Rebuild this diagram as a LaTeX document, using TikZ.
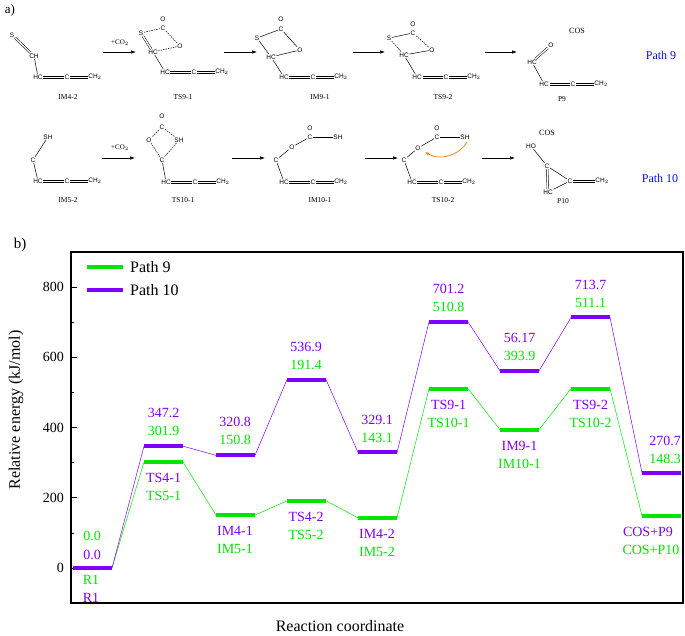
\documentclass[tikz,border=0pt]{standalone}
\usepackage{fontspec}
\setmainfont{Liberation Serif}
\setsansfont{Liberation Sans}
\usetikzlibrary{arrows.meta}
\definecolor{pgreen}{HTML}{00E600}
\definecolor{ppurp}{HTML}{8000FF}
\definecolor{pblue}{HTML}{1010F0}
\definecolor{porange}{HTML}{F08A20}
\tikzset{
 atom/.style={font=\sffamily\fontsize{6.5}{7}\selectfont, inner sep=0.6pt},
 cname/.style={font=\fontsize{7.5}{8}\selectfont, inner sep=0pt},
 bnd/.style={line width=0.5pt},
 dbl/.style={double distance=1.3pt, line width=0.5pt},
 dsh/.style={line width=0.5pt, dash pattern=on 1.5pt off 1pt},
 rarr/.style={line width=0.6pt, -{Latex[length=5pt,width=3.5pt]}},
 gline/.style={pgreen, line width=0.5pt},
 pline/.style={ppurp, line width=0.5pt},
 gbar/.style={pgreen, line width=4pt},
 pbar/.style={ppurp, line width=4pt},
 glab/.style={pgreen, font=\fontsize{14}{15}\selectfont, inner sep=0pt},
 plab/.style={ppurp, font=\fontsize{14}{15}\selectfont, inner sep=0pt},
 tlab/.style={font=\fontsize{14}{15}\selectfont, inner sep=0pt},
}
\newcommand\hdbl[2]{%
 \draw[line width=0.6pt] ([yshift=1.1pt]#1.east)--([yshift=1.1pt]#2.west);
 \draw[line width=0.6pt] ([yshift=-1.1pt]#1.east)--([yshift=-1.1pt]#2.west);}
\newcommand\chainat[3]{%
 \node[atom] (#1HH) at (#2,#3) {HC};
 \node[atom] (#1CC) at ({#2+29},#3) {C};
 \node[atom] (#1EE) at ({#2+57},#3) {CH$_2$};
 \hdbl{#1HH}{#1CC}\hdbl{#1CC}{#1EE}}
\begin{document}
\begin{tikzpicture}[x=1pt,y=-1pt]
\useasboundingbox (0,0) rectangle (685,636);
\node[font=\fontsize{13}{14}\selectfont] (alab) at (10,10) {a)};
% IM4-2
\node[atom] (a1s) at (12,35) {S};
\node[atom] (a1c) at (34,56) {CH};
\chainat{a1}{38}{77}
\draw[dbl] (a1s)--(a1c); \draw[bnd] (a1c)--(a1HH);
\node[cname] (n1) at (68,97) {IM4-2};
% arrow 1
\coordinate (r1a) at (103,52); \coordinate (r1b) at (136,52);
\draw[rarr] (r1a)--(r1b);
\node[atom, font=\fontsize{7}{8}\selectfont] (co1) at (120,43) {+CO$_2$};
% TS9-1
\node[atom] (t1s) at (141,33) {S};
\node[atom] (t1c) at (163,28) {C};
\node[atom] (t1ot) at (163,19) {O};
\node[atom] (t1o) at (180,46) {O};
\node[atom] (t1hc) at (153,52) {HC};
\chainat{t1}{165}{72}
\draw[dsh] (t1s)--(t1c); \draw[dsh] (t1c)--(t1o); \draw[dsh] (t1o)--(t1hc);
\draw[dbl] (t1s)--(t1hc); \draw[dbl] (t1c)--(t1ot); \draw[bnd] (t1hc)--(t1HH);
\node[cname] (n2) at (183,97) {TS9-1};
% arrow 2
\coordinate (r2a) at (224,52); \coordinate (r2b) at (257,52);
\draw[rarr] (r2a)--(r2b);
% IM9-1
\node[atom] (i1s) at (257,38) {S};
\node[atom] (i1c) at (281,29) {C};
\node[atom] (i1ot) at (281,19) {O};
\node[atom] (i1o) at (300,50) {O};
\node[atom] (i1hc) at (271,57) {HC};
\chainat{i1}{284}{77}
\draw[bnd] (i1s)--(i1c); \draw[bnd] (i1c)--(i1o); \draw[bnd] (i1o)--(i1hc);
\draw[bnd] (i1s)--(i1hc); \draw[dbl] (i1c)--(i1ot); \draw[bnd] (i1hc)--(i1HH);
\node[cname] (n3) at (320,97) {IM9-1};
% arrow 3
\coordinate (r3a) at (353,52); \coordinate (r3b) at (385,52);
\draw[rarr] (r3a)--(r3b);
% TS9-2
\node[atom] (t2s) at (389,38) {S};
\node[atom] (t2c) at (413,33) {C};
\node[atom] (t2ot) at (413,24) {O};
\node[atom] (t2o) at (432,50) {O};
\node[atom] (t2hc) at (404,55) {HC};
\chainat{t2}{417}{77}
\draw[bnd] (t2s)--(t2c); \draw[dsh] (t2c)--(t2o); \draw[bnd] (t2o)--(t2hc);
\draw[dsh] (t2s)--(t2hc); \draw[dbl] (t2c)--(t2ot); \draw[bnd] (t2hc)--(t2HH);
\node[cname] (n4) at (443,97) {TS9-2};
% arrow 4
\coordinate (r4a) at (485,52); \coordinate (r4b) at (517,52);
\draw[rarr] (r4a)--(r4b);
% P9
\node[cname, font=\fontsize{8}{9}\selectfont] (cos1) at (577,31) {COS};
\node[atom] (p9o) at (551,45) {O};
\node[atom] (p9hc) at (532,62) {HC};
\chainat{p9}{544}{84}
\draw[dbl] (p9hc)--(p9o); \draw[bnd] (p9hc)--(p9HH);
\node[cname] (n5) at (562,99) {P9};
\node[font=\fontsize{12}{13}\selectfont, text=pblue] (path9) at (661,55) {Path 9};
% IM5-2
\node[atom] (b1sh) at (48,137) {SH};
\node[atom] (b1c) at (33,160) {C};
\chainat{b1}{38}{181}
\draw[bnd] (b1sh)--(b1c); \draw[bnd] (b1c)--(b1HH);
\node[cname] (m1) at (68,200) {IM5-2};
% arrow 5
\coordinate (r5a) at (102,158); \coordinate (r5b) at (135,158);
\draw[rarr] (r5a)--(r5b);
\node[atom, font=\fontsize{7}{8}\selectfont] (co2) at (120,148) {+CO$_2$};
% TS10-1
\node[atom] (t3ot) at (162,116) {O};
\node[atom] (t3c) at (162,127) {C};
\node[atom] (t3o) at (149,140) {O};
\node[atom] (t3sh) at (179,140) {SH};
\node[atom] (t3c2) at (162,160) {C};
\chainat{t3}{166}{182}
\draw[dbl] (t3c)--(t3ot); \draw[dsh] (t3c)--(t3o); \draw[dsh] (t3c)--(t3sh);
\draw[dsh] (t3o)--(t3c2); \draw[dsh] (t3sh)--(t3c2); \draw[bnd] (t3c2)--(t3HH);
\node[cname] (m2) at (183,200) {TS10-1};
% arrow 6
\coordinate (r6a) at (232,158); \coordinate (r6b) at (265,158);
\draw[rarr] (r6a)--(r6b);
% IM10-1
\node[atom] (i2c) at (276,160) {C};
\node[atom] (i2o) at (292,147) {O};
\node[atom] (i2c2) at (310,137) {C};
\node[atom] (i2ot) at (310,128) {O};
\node[atom] (i2sh) at (338,137) {SH};
\chainat{i2}{284}{182}
\draw[bnd] (i2c)--(i2o); \draw[bnd] (i2o)--(i2c2); \draw[dbl] (i2c2)--(i2ot);
\draw[bnd] (i2c2)--(i2sh); \draw[bnd] (i2c)--(i2HH);
\node[cname] (m3) at (320,200) {IM10-1};
% arrow 7
\coordinate (r7a) at (365,158); \coordinate (r7b) at (398,158);
\draw[rarr] (r7a)--(r7b);
% TS10-2
\node[atom] (t4c) at (404,160) {C};
\node[atom] (t4o) at (418,148) {O};
\node[atom] (t4c2) at (437,137) {C};
\node[atom] (t4ot) at (437,128) {O};
\node[atom] (t4sh) at (465,137) {SH};
\chainat{t4}{412}{182}
\draw[bnd] (t4c)--(t4o); \draw[bnd] (t4o)--(t4c2); \draw[dbl] (t4c2)--(t4ot);
\draw[bnd] (t4c2)--(t4sh); \draw[bnd] (t4c)--(t4HH);
\coordinate (oa) at (467,142); \coordinate (ob) at (425,152);
\draw[porange, line width=0.8pt, -{Latex[length=4pt,width=3.5pt]}] (oa) to[bend left=45] (ob);
\node[cname] (m4) at (443,200) {TS10-2};
% arrow 8
\coordinate (r8a) at (482,158); \coordinate (r8b) at (515,158);
\draw[rarr] (r8a)--(r8b);
% P10
\node[cname, font=\fontsize{8}{9}\selectfont] (cos2) at (547,133) {COS};
\node[atom] (p10ho) at (531,146) {HO};
\node[atom] (p10c) at (547,166) {C};
\node[atom] (p10hc) at (548,192) {HC};
\node[atom] (p10c3) at (570,181) {C};
\node[atom] (p10e) at (602,181) {CH$_2$};
\draw[bnd] (p10ho)--(p10c); \draw[dbl] (p10c)--(p10hc); \draw[bnd] (p10c)--(p10c3);
\draw[bnd] (p10hc)--(p10c3); \hdbl{p10c3}{p10e}
\node[cname] (m5) at (563,201) {P10};
\node[font=\fontsize{12}{13}\selectfont, text=pblue] (path10) at (660,178) {Path 10};
%%%%%%%% chart
\node[font=\fontsize{15}{16}\selectfont] (blab) at (20,245) {b)};
\draw[line width=1.1pt] (71,252) rectangle (683,603);
\foreach \v in {0,200,400,600,800} {
  \draw[line width=0.8pt] (71,{568-0.351*\v}) -- (77,{568-0.351*\v});
  \node[tlab, anchor=east] at (64,{568-0.351*\v}) {\v};
}
\foreach \v in {100,300,500,700} \draw[line width=0.8pt] (71,{568-0.351*\v}) -- (74,{568-0.351*\v});
\node[font=\fontsize{16}{17}\selectfont, rotate=90] (ylab) at (16,410) {Relative energy (kJ/mol)};
\node[font=\fontsize{16}{17}\selectfont] (xlab) at (340,626) {Reaction coordinate};
% legend
\coordinate (lg1) at (87,267); \coordinate (lg2) at (123,267);
\coordinate (lp1) at (87,290); \coordinate (lp2) at (123,290);
\draw[gbar] (lg1)--(lg2); \draw[pbar] (lp1)--(lp2);
\node[font=\fontsize{16}{17}\selectfont, anchor=west, inner sep=0pt] (lgt) at (130,267) {Path 9};
\node[font=\fontsize{16}{17}\selectfont, anchor=west, inner sep=0pt] (lpt) at (130,290) {Path 10};
% levels
\foreach \i/\xa/\g/\p in {0/73/0/0,1/144/301.9/347.2,2/216/150.8/320.8,3/287/191.4/536.9,4/358/143.1/329.1,5/429/510.8/701.2,6/500/393.9/561.7,7/571/511.1/713.7,8/642/148.3/270.7} {
  \coordinate (gL\i) at (\xa,{568-0.351*\g});
  \coordinate (gR\i) at (\xa+39,{568-0.351*\g});
  \coordinate (pL\i) at (\xa,{568-0.351*\p});
  \coordinate (pR\i) at (\xa+39,{568-0.351*\p});
}
\foreach \i [evaluate=\i as \j using int(\i+1)] in {0,...,7} {
  \draw[gline] (gR\i)--(gL\j);
  \draw[pline] (pR\i)--(pL\j);
}
\foreach \i in {0,...,8} { \draw[gbar] (gL\i)--(gR\i); \draw[pbar] (pL\i)--(pR\i); }
% labels
\node[glab] (v0a) at (92,536) {0.0};
\node[plab] (v0b) at (92,555) {0.0};
\node[glab] (n0a) at (91,580) {R1};
\node[plab] (n0b) at (91,598) {R1};
\foreach \cx/\pv/\gv/\pn/\gn/\yt/\yb in {
 163.5/347.2/301.9/TS4-1/TS5-1/446.1/462.0,
 235/320.8/150.8/IM4-1/IM5-1/455.4/515.1,
 306/536.9/191.4/TS4-2/TS5-2/379.5/500.8,
 377/329.1/143.1/IM4-2/IM5-2/452.5/517.8,
 448.5/701.2/510.8/TS9-1/TS10-1/321.9/388.7,
 519.5/56.17/393.9/IM9-1/IM10-1/370.8/429.7,
 590.5/713.7/511.1/TS9-2/TS10-2/317.5/388.6} {
  \node[plab] at (\cx,\yt-33) {\pv};
  \node[glab] at (\cx,\yt-15) {\gv};
  \node[plab] at (\cx,\yb+16) {\pn};
  \node[glab] at (\cx,\yb+34) {\gn};
}
\node[plab] (v8a) at (665,441) {270.7};
\node[glab] (v8b) at (665,459) {148.3};
\node[plab] (n8a) at (648,532) {COS+P9};
\node[glab] (n8b) at (651,550) {COS+P10};
\end{tikzpicture}
\end{document}
